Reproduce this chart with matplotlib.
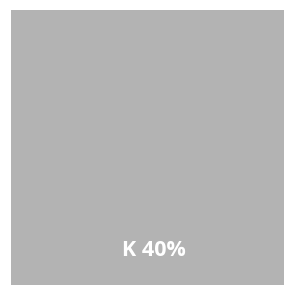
import matplotlib
matplotlib.use("Agg")
import matplotlib.pyplot as plt

categories = ["K"]
values = [40]
colors = ["#b3b3b3"]

W, H = 284, 285
fig = plt.figure(figsize=(W / 100, H / 100), dpi=100)
ax = fig.add_axes([11 / W, 0, 1 - 11 / W, 1 - 10 / H])
ax.bar([0], [1], width=1, color=colors[0], align="edge")
ax.set_xlim(0, 1)
ax.set_ylim(0, 1)
ax.axis("off")

fig.text(153.5 / W, 1 - 250.5 / H, f"{categories[0]} {values[0]}%", color="white",
         fontsize=15.5, fontweight="bold", family=["Open Sans", "DejaVu Sans"],
         ha="center", va="center")

fig.savefig("out.png", dpi=100)
